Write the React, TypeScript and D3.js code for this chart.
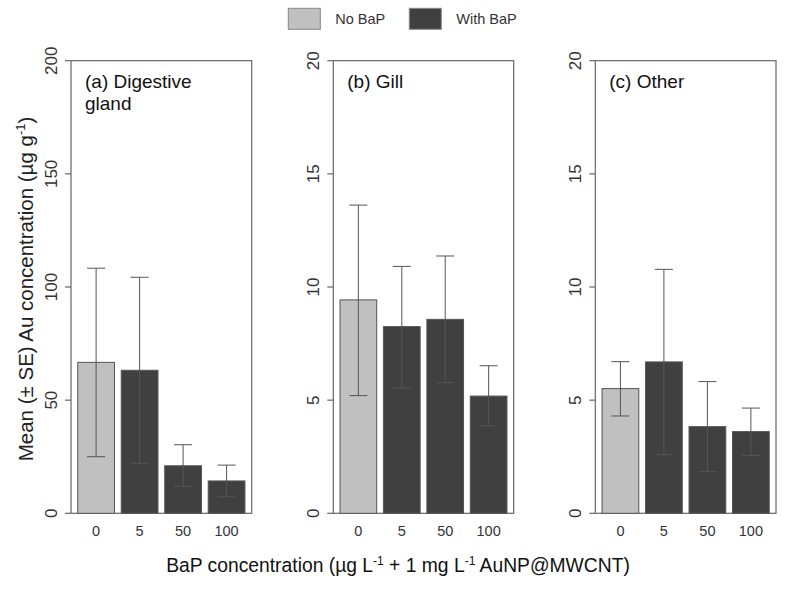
import React, { useEffect, useRef } from 'react';
import * as d3 from 'd3';

const categories = ['0', '5', '50', '100'];
const legendLabels = ['No BaP', 'With BaP'];

const panelTitles = [['(a) Digestive', 'gland'], ['(b) Gill'], ['(c) Other']];
const panelMax = [200, 20, 20];
const panelTicks = [
  [0, 50, 100, 150, 200],
  [0, 5, 10, 15, 20],
  [0, 5, 10, 15, 20],
];

// mean, upper and lower ends of the SE bars
const gutMean = [66.7, 63.2, 21.0, 14.3];
const gutHigh = [108.3, 104.3, 30.3, 21.3];
const gutLow = [25.0, 22.1, 11.9, 7.3];

const gillMean = [9.43, 8.25, 8.57, 5.18];
const gillHigh = [13.62, 10.91, 11.37, 6.52];
const gillLow = [5.2, 5.54, 5.77, 3.86];

const otherMean = [5.51, 6.69, 3.83, 3.61];
const otherHigh = [6.7, 10.78, 5.82, 4.65];
const otherLow = [4.3, 2.59, 1.84, 2.56];

const means = [gutMean, gillMean, otherMean];
const highs = [gutHigh, gillHigh, otherHigh];
const lows = [gutLow, gillLow, otherLow];

const App = () => {
  const ref = useRef(null);

  useEffect(() => {
    const svg = d3.select(ref.current);
    svg.selectAll('*').remove();

    const width = 785;
    const height = 590;
    svg.attr('width', width).attr('height', height)
       .style('font-family', '"Liberation Sans", Arial, sans-serif');

    const top = 60.7;
    const bottom = 513.3;
    const panelX = [[71, 251.7], [333.3, 513.7], [595.3, 776]];
    const light = '#c0c0c0';
    const dark = '#404040';
    const lineCol = '#666';

    panelX.forEach((px, p) => {
      const g = svg.append('g');
      const x = d3.scaleBand().domain(categories).range(px).padding(0.155);
      const y = d3.scaleLinear().domain([0, panelMax[p]]).range([bottom, top]);

      // box
      g.append('rect')
       .attr('x', px[0]).attr('y', top)
       .attr('width', px[1] - px[0]).attr('height', bottom - top)
       .attr('fill', 'none').attr('stroke', lineCol).attr('stroke-width', 1.2);

      // y ticks
      panelTicks[p].forEach(t => {
        g.append('line')
         .attr('x1', px[0] - 6).attr('x2', px[0])
         .attr('y1', y(t)).attr('y2', y(t))
         .attr('stroke', lineCol).attr('stroke-width', 1.2);
        g.append('text')
         .attr('transform', `translate(${px[0] - 14},${y(t)}) rotate(-90)`)
         .attr('text-anchor', 'middle')
         .style('font-size', '17px')
         .attr('fill', '#333')
         .text(t);
      });

      // bars
      categories.forEach((c, i) => {
        g.append('rect')
         .attr('x', x(c)).attr('y', y(means[p][i]))
         .attr('width', x.bandwidth()).attr('height', y(0) - y(means[p][i]))
         .attr('fill', i === 0 ? light : dark)
         .attr('stroke', '#555').attr('stroke-width', 1);

        const cx = x(c) + x.bandwidth() / 2;
        g.append('line')
         .attr('x1', cx).attr('x2', cx)
         .attr('y1', y(highs[p][i])).attr('y2', y(lows[p][i]))
         .attr('stroke', '#555').attr('stroke-width', 1);
        [highs[p][i], lows[p][i]].forEach(v => {
          g.append('line')
           .attr('x1', cx - 9).attr('x2', cx + 9)
           .attr('y1', y(v)).attr('y2', y(v))
           .attr('stroke', '#555').attr('stroke-width', 1);
        });

        g.append('text')
         .attr('x', cx).attr('y', 536)
         .attr('text-anchor', 'middle')
         .style('font-size', '14.5px')
         .attr('fill', '#333')
         .text(c);
      });

      // panel title
      panelTitles[p].forEach((line, k) => {
        g.append('text')
         .attr('x', px[0] + 14).attr('y', 88 + k * 22)
         .style('font-size', '19px')
         .attr('fill', '#111')
         .text(line);
      });
    });

    // y axis title
    const yt = svg.append('text')
      .attr('transform', 'translate(33,289) rotate(-90)')
      .attr('text-anchor', 'middle')
      .style('font-size', '20.5px')
      .attr('fill', '#222');
    yt.append('tspan').text('Mean (± SE) Au concentration (µg g');
    yt.append('tspan').attr('dy', -8).style('font-size', '13px').text('-1');
    yt.append('tspan').attr('dy', 8).text(')');

    // x axis title
    const xt = svg.append('text')
      .attr('x', 398).attr('y', 572)
      .attr('text-anchor', 'middle')
      .style('font-size', '19.3px')
      .attr('fill', '#111');
    xt.append('tspan').text('BaP concentration (µg L');
    xt.append('tspan').attr('dy', -7).style('font-size', '12px').text('-1');
    xt.append('tspan').attr('dy', 7).text(' + 1 mg L');
    xt.append('tspan').attr('dy', -7).style('font-size', '12px').text('-1');
    xt.append('tspan').attr('dy', 7).text(' AuNP@MWCNT)');

    // legend
    const legX = [288.3, 409.3];
    legendLabels.forEach((l, i) => {
      svg.append('rect')
         .attr('x', legX[i]).attr('y', 8.3)
         .attr('width', 32).attr('height', 21)
         .attr('fill', i === 0 ? light : dark)
         .attr('stroke', '#888').attr('stroke-width', 1);
      svg.append('text')
         .attr('x', legX[i] + 47).attr('y', 24)
         .style('font-size', '14.5px')
         .attr('fill', '#333')
         .text(l);
    });
  }, []);

  return <svg ref={ref} style={{ position: 'absolute', left: 0, top: 0 }}></svg>;
};

export default App;
